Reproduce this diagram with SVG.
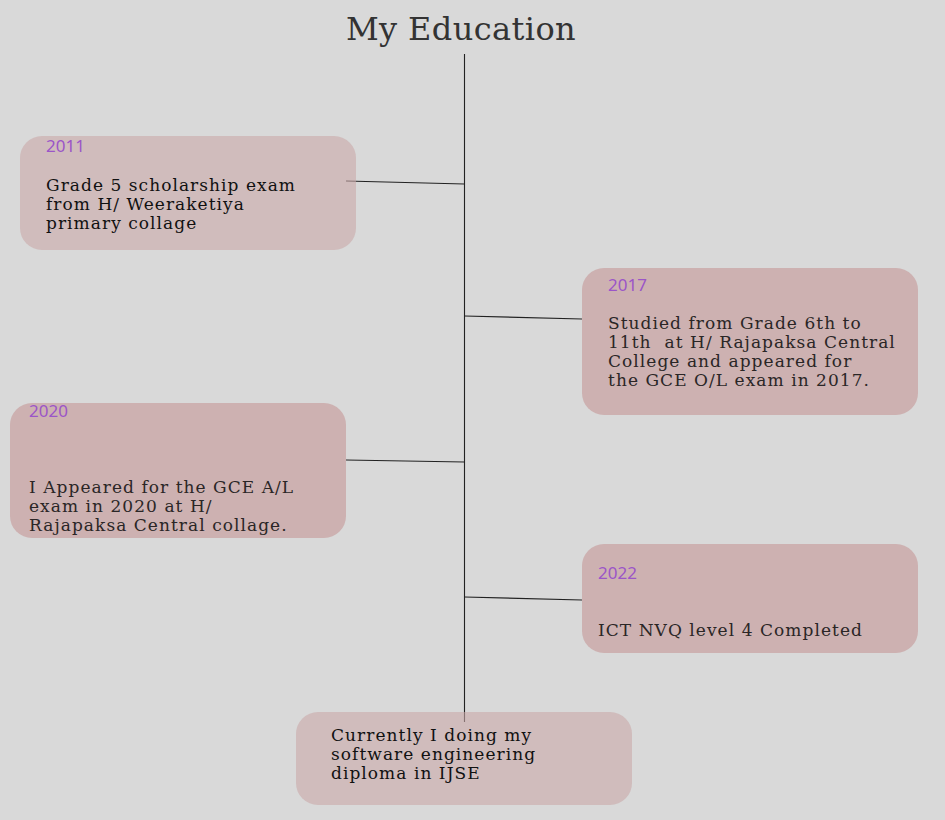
<svg xmlns="http://www.w3.org/2000/svg" width="945" height="820" viewBox="0 0 945 820">
<style>
.bg{fill:#d9d9d9}
.box{fill:#caa9a9;fill-opacity:0.6}
.box2{fill:#c59696;fill-opacity:0.6}
.line{stroke:#222;stroke-width:1.1;fill:none}
.year{font-family:"Noto Sans","DejaVu Sans",sans-serif;font-size:17px;fill:#9b55c8}
.txt{font-family:"DejaVu Serif","Liberation Serif",serif;font-size:17px;letter-spacing:1.05px;fill:#2a2626}
.dark{fill:#111}
.title{font-family:"DejaVu Serif","Liberation Serif",serif;font-size:32px;letter-spacing:0.4px;fill:#333;text-anchor:middle}
</style>
<rect class="bg" x="0" y="0" width="945" height="820"/>
<text class="title" x="461" y="40">My Education</text>
<g id="connectors">
<line class="line" x1="464.5" y1="54" x2="464.5" y2="722"/>
<line class="line" x1="346" y1="181" x2="464.5" y2="184"/>
<line class="line" x1="464.5" y1="316" x2="582" y2="319"/>
<line class="line" x1="346" y1="460" x2="464.5" y2="462"/>
<line class="line" x1="464.5" y1="597" x2="582" y2="600"/>
</g>
<g id="node-2011">
<rect class="box" x="20" y="136" width="336" height="114" rx="22"/>
<text class="year" x="46" y="152">2011</text>
<text class="txt dark" x="46" y="191">Grade 5 scholarship exam</text>
<text class="txt dark" x="46" y="210">from H/ Weeraketiya</text>
<text class="txt dark" x="46" y="229">primary collage</text>
</g>
<g id="node-2017">
<rect class="box2" x="582" y="268" width="336" height="147" rx="22"/>
<text class="year" x="608" y="291">2017</text>
<text class="txt" x="608" y="329">Studied from Grade 6th to</text>
<text class="txt" x="608" y="348" xml:space="preserve">11th  at H/ Rajapaksa Central</text>
<text class="txt" x="608" y="367">College and appeared for</text>
<text class="txt" x="608" y="386">the GCE O/L exam in 2017.</text>
</g>
<g id="node-2020">
<rect class="box2" x="10" y="403" width="336" height="135" rx="22"/>
<text class="year" x="29" y="417">2020</text>
<text class="txt" x="29" y="493">I Appeared for the GCE A/L</text>
<text class="txt" x="29" y="512">exam in 2020 at H/</text>
<text class="txt" x="29" y="531">Rajapaksa Central collage.</text>
</g>
<g id="node-2022">
<rect class="box2" x="582" y="544" width="336" height="109" rx="22"/>
<text class="year" x="598" y="579">2022</text>
<text class="txt" x="598" y="636">ICT NVQ level 4 Completed</text>
</g>
<g id="node-current">
<rect class="box" x="296" y="712" width="336" height="93" rx="22"/>
<text class="txt dark" x="331" y="741">Currently I doing my</text>
<text class="txt dark" x="331" y="760">software engineering</text>
<text class="txt dark" x="331" y="779">diploma in IJSE</text>
</g>
</svg>
